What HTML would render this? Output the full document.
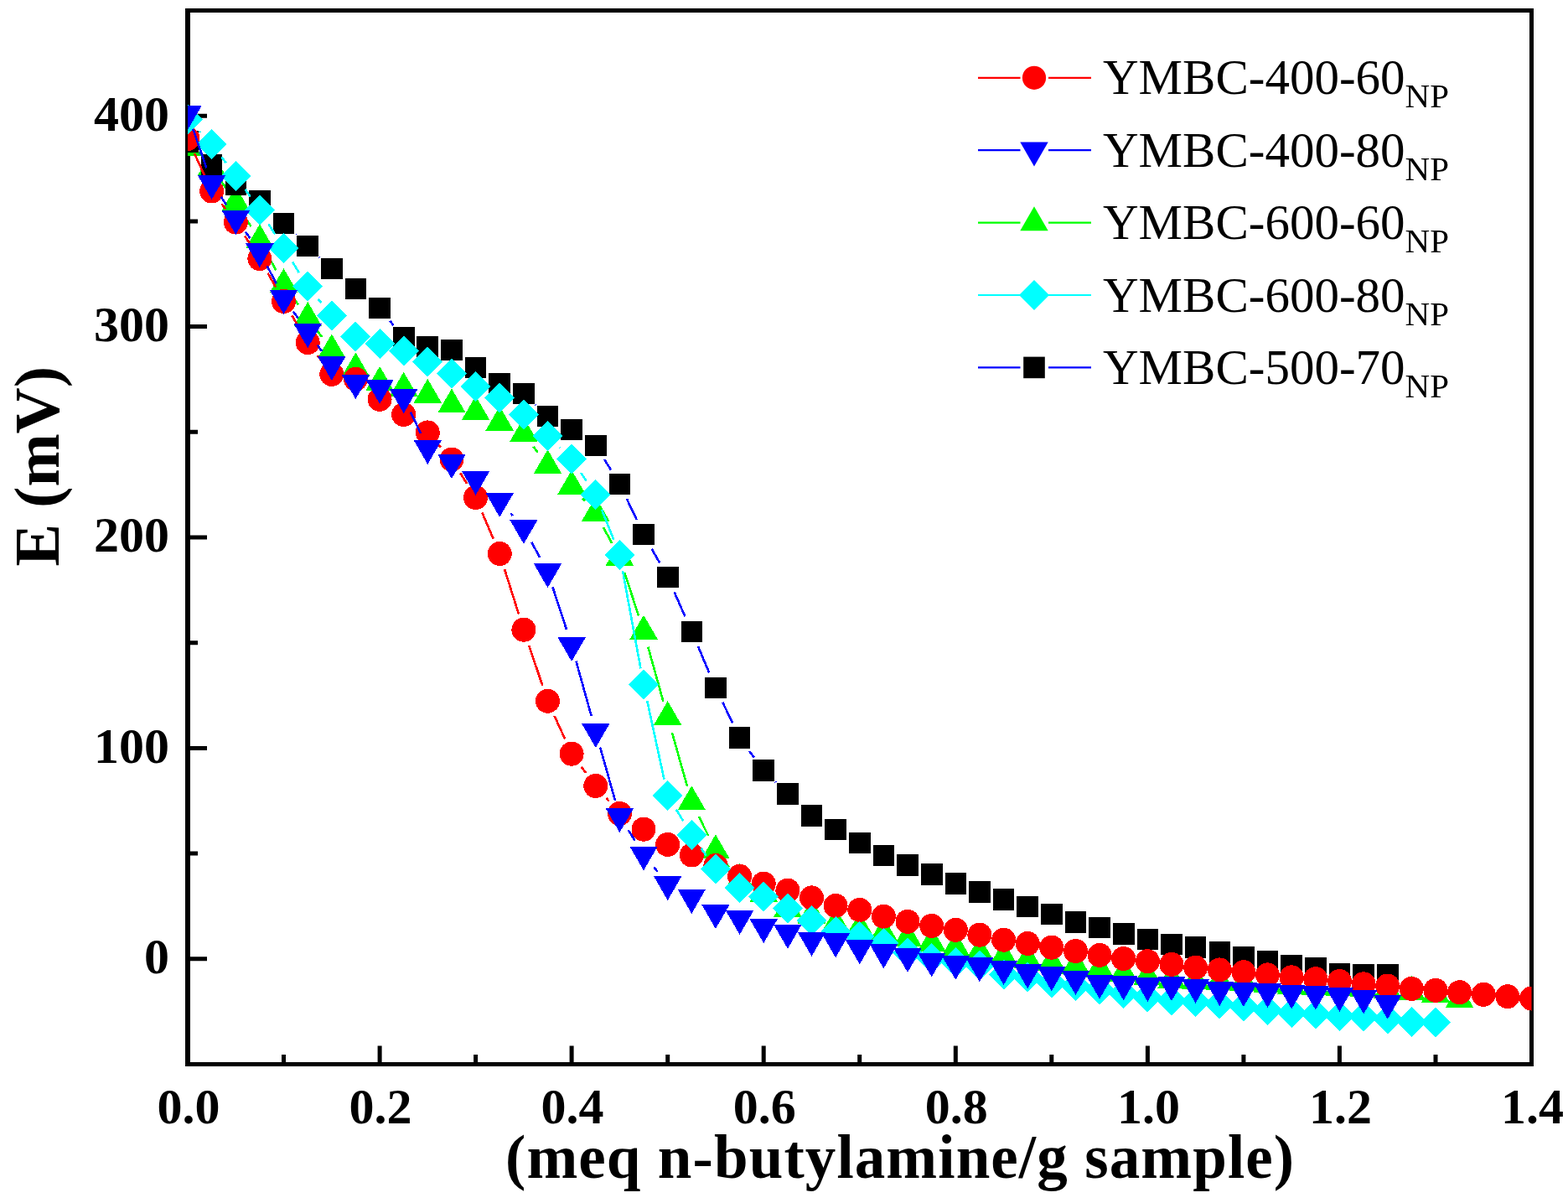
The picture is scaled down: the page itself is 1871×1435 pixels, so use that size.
<!DOCTYPE html>
<html><head><meta charset="utf-8"><title>E vs n-butylamine</title>
<style>
html,body{margin:0;padding:0;background:#fff;}
svg{display:block;}
.tk{font-family:"Liberation Serif","Times New Roman",serif;font-weight:bold;font-size:60px;fill:#000;}
.lg{font-family:"Liberation Serif","Times New Roman",serif;font-size:59px;fill:#000;}
.sub{font-size:41px;}
.ti{font-family:"Liberation Serif","Times New Roman",serif;font-weight:bold;fill:#000;}
</style></head><body>
<svg width="1871" height="1435" viewBox="0 0 1871 1435">
<rect width="1871" height="1435" fill="#fff"/>
<path d="M221 10h6v1262h-6zM1825 10h5v1262h-5zM221 10h1609v5h-1609zM221 1267h1609v5h-1609z" fill="#000"/>
<path d="M224 1141.3h23v5h-23zM224 1015.6h12v5h-12zM224 889.9h23v5h-23zM224 764.2h12v5h-12zM224 638.5h23v5h-23zM224 512.8h12v5h-12zM224 387.1h23v5h-23zM224 261.4h12v5h-12zM224 135.7h23v5h-23zM336 1269.5v-11.5h5v11.5zM450.6 1269.5v-22h5v22zM565.1 1269.5v-11.5h5v11.5zM679.6 1269.5v-22h5v22zM794.2 1269.5v-11.5h5v11.5zM908.7 1269.5v-22h5v22zM1023.2 1269.5v-11.5h5v11.5zM1137.8 1269.5v-22h5v22zM1252.3 1269.5v-11.5h5v11.5zM1366.9 1269.5v-22h5v22zM1481.4 1269.5v-11.5h5v11.5zM1595.9 1269.5v-22h5v22zM1710.5 1269.5v-11.5h5v11.5z" fill="#000"/>
<defs><clipPath id="pc"><rect x="224.0" y="12.5" width="1603.5" height="1257.0"/></clipPath></defs>
<g clip-path="url(#pc)" shape-rendering="crispEdges">
<path d="M263.6 215.6L270.3 225.4M291.7 258L299.4 270M319.2 303.6L329.3 322.3M349.9 355.2L355.8 363.4M378.8 394.8L384.1 402M636.5 532.7L641.9 539.9M695.1 594.5L697.8 597.5M720 629.2L730.1 647.8M745.4 683.5L762 734.5M773.3 771.8L791.4 836.6M802 874.2L820 937.8M833.9 974.1L845.3 997.1M866.3 1029.7L870.2 1034.4" stroke="#00ff00" stroke-width="2.6" fill="none"/><path d="M207.3 186.1L240.7 186.1L224 157.1ZM235.9 209.2L269.3 209.2L252.6 180.2ZM264.6 251.2L298 251.2L281.3 222.2ZM293.2 296.1L326.6 296.1L309.9 267.2ZM321.8 349L355.3 349L338.5 320.1ZM350.5 388.8L383.9 388.8L367.2 359.9ZM379.1 427.2L412.5 427.2L395.8 398.3ZM407.7 449.3L441.2 449.3L424.4 420.4ZM436.4 465.8L469.8 465.8L453.1 436.8ZM465 472.6L498.4 472.6L481.7 443.7ZM493.6 480.8L527.1 480.8L510.3 451.8ZM522.3 492.4L555.7 492.4L539 463.5ZM550.9 501L584.3 501L567.6 472.1ZM579.5 513.5L613 513.5L596.2 484.6ZM608.2 526.8L641.6 526.8L624.9 497.8ZM636.8 565.1L670.2 565.1L653.5 536.2ZM665.4 589.6L698.9 589.6L682.1 560.7ZM694.1 621.6L727.5 621.6L710.8 592.7ZM722.7 674.6L756.1 674.6L739.4 645.7ZM751.3 762.6L784.8 762.6L768 733.7ZM780 865L813.4 865L796.7 836.1ZM808.6 966.2L842 966.2L825.3 937.3ZM837.2 1024.2L870.7 1024.2L853.9 995.3ZM865.9 1059.2L899.3 1059.2L882.6 1030.2ZM894.5 1075.7L927.9 1075.7L911.2 1046.7ZM923.1 1093.7L956.6 1093.7L939.9 1064.7ZM951.8 1101.5L985.2 1101.5L968.5 1072.5ZM980.4 1111.7L1013.8 1111.7L997.1 1082.7ZM1009 1117L1042.5 1117L1025.8 1088ZM1037.7 1122.7L1071.1 1122.7L1054.4 1093.7ZM1066.3 1128.7L1099.7 1128.7L1083 1099.7ZM1094.9 1134.7L1128.4 1134.7L1111.7 1105.7ZM1123.6 1140.2L1157 1140.2L1140.3 1111.2ZM1152.2 1145.7L1185.6 1145.7L1168.9 1116.7ZM1180.8 1151.2L1214.3 1151.2L1197.6 1122.2ZM1209.5 1154.7L1242.9 1154.7L1226.2 1125.7ZM1238.1 1158.2L1271.5 1158.2L1254.8 1129.2ZM1266.7 1161.7L1300.2 1161.7L1283.5 1132.7ZM1295.4 1165.7L1328.8 1165.7L1312.1 1136.7ZM1324 1170.7L1357.4 1170.7L1340.7 1141.7ZM1352.6 1174.7L1386.1 1174.7L1369.4 1145.7ZM1381.3 1178.7L1414.7 1178.7L1398 1149.7ZM1409.9 1180.2L1443.3 1180.2L1426.6 1151.2ZM1438.5 1180.7L1472 1180.7L1455.3 1151.7ZM1467.2 1181.7L1500.6 1181.7L1483.9 1152.7ZM1495.8 1183.7L1529.2 1183.7L1512.5 1154.7ZM1524.4 1185.7L1557.9 1185.7L1541.2 1156.7ZM1553.1 1186.7L1586.5 1186.7L1569.8 1157.7ZM1581.7 1187.7L1615.1 1187.7L1598.4 1158.7ZM1610.4 1189.2L1643.8 1189.2L1627.1 1160.2ZM1639 1190.7L1672.4 1190.7L1655.7 1161.7ZM1667.6 1193.1L1701 1193.1L1684.3 1164.1ZM1696.3 1195.5L1729.7 1195.5L1713 1166.5ZM1724.9 1201.9L1758.3 1201.9L1741.6 1172.9Z" fill="#00ff00"/>
<path d="M238 182.3L238.6 182.9M324.2 253.2L324.2 253.3M352.8 279.8L352.9 280M381.3 306.7L381.6 307M465.3 382.7L469.5 388M639.1 482.8L639.3 483M721.1 547.9L729.1 560.7M747.8 594.9L759.7 619.9M777.6 654.5L787.1 671.3M804.5 706.1L817.5 735.5M833 771.2L846.3 802.5M862.4 838L874.2 862.6M894.1 895.9L899.7 903.4M925.3 932.6L925.8 933.2" stroke="#0000ff" stroke-width="2.6" fill="none"/><path d="M211.2 155.9h25.6v25.6h-25.6ZM239.8 183.7h25.6v25.6h-25.6ZM268.5 207.2h25.6v25.6h-25.6ZM297.1 227.2h25.6v25.6h-25.6ZM325.7 253.7h25.6v25.6h-25.6ZM354.4 280.5h25.6v25.6h-25.6ZM383 307.6h25.6v25.6h-25.6ZM411.6 331.6h25.6v25.6h-25.6ZM440.3 354.7h25.6v25.6h-25.6ZM468.9 390.4h25.6v25.6h-25.6ZM497.5 400.7h25.6v25.6h-25.6ZM526.2 404.6h25.6v25.6h-25.6ZM554.8 425.5h25.6v25.6h-25.6ZM583.4 444.7h25.6v25.6h-25.6ZM612.1 456.6h25.6v25.6h-25.6ZM640.7 483.6h25.6v25.6h-25.6ZM669.3 499.5h25.6v25.6h-25.6ZM698 518.5h25.6v25.6h-25.6ZM726.6 564.5h25.6v25.6h-25.6ZM755.2 624.7h25.6v25.6h-25.6ZM783.9 675.5h25.6v25.6h-25.6ZM812.5 740.5h25.6v25.6h-25.6ZM841.1 807.6h25.6v25.6h-25.6ZM869.8 867.4h25.6v25.6h-25.6ZM898.4 906.3h25.6v25.6h-25.6ZM927.1 933.9h25.6v25.6h-25.6ZM955.7 959.9h25.6v25.6h-25.6ZM984.3 976.8h25.6v25.6h-25.6ZM1013 992.8h25.6v25.6h-25.6ZM1041.6 1007.6h25.6v25.6h-25.6ZM1070.2 1019.1h25.6v25.6h-25.6ZM1098.9 1030.2h25.6v25.6h-25.6ZM1127.5 1041.3h25.6v25.6h-25.6ZM1156.1 1051.2h25.6v25.6h-25.6ZM1184.8 1060.1h25.6v25.6h-25.6ZM1213.4 1068.5h25.6v25.6h-25.6ZM1242 1077.7h25.6v25.6h-25.6ZM1270.7 1087.1h25.6v25.6h-25.6ZM1299.3 1093.7h25.6v25.6h-25.6ZM1327.9 1101.2h25.6v25.6h-25.6ZM1356.6 1107.8h25.6v25.6h-25.6ZM1385.2 1113.7h25.6v25.6h-25.6ZM1413.8 1117h25.6v25.6h-25.6ZM1442.5 1123h25.6v25.6h-25.6ZM1471.1 1128.8h25.6v25.6h-25.6ZM1499.7 1133.6h25.6v25.6h-25.6ZM1528.4 1138.7h25.6v25.6h-25.6ZM1557 1142.2h25.6v25.6h-25.6ZM1585.6 1149h25.6v25.6h-25.6ZM1614.3 1149.9h25.6v25.6h-25.6ZM1642.9 1149.9h25.6v25.6h-25.6Z" fill="#000000"/>
<path d="M232.1 183.2L244.5 210.3M264.6 243.4L269.3 249.6M292 281.3L299.2 292.3M319.5 325.6L329 342.4M348.3 376.3L357.4 391.7M378.9 424.1L384 430.9M523.3 530.5L526 533.4M549.4 564.5L557.2 577M575.3 611.4L588.6 642.6M602.1 679.1L619 732.6M631.1 769.7L647.3 817.7M661.6 854L674.1 881.4M693.8 914.8L699.1 921.9M723.6 952.2L726.6 955.7" stroke="#ff0000" stroke-width="2.6" fill="none"/><g fill="#ff0000"><circle cx="224" cy="165.5" r="14.5"/><circle cx="252.6" cy="228" r="14.5"/><circle cx="281.3" cy="265" r="14.5"/><circle cx="309.9" cy="308.6" r="14.5"/><circle cx="338.5" cy="359.4" r="14.5"/><circle cx="367.2" cy="408.6" r="14.5"/><circle cx="395.8" cy="446.4" r="14.5"/><circle cx="424.4" cy="452.2" r="14.5"/><circle cx="453.1" cy="476.4" r="14.5"/><circle cx="481.7" cy="494.5" r="14.5"/><circle cx="510.3" cy="515.9" r="14.5"/><circle cx="539" cy="548" r="14.5"/><circle cx="567.6" cy="593.5" r="14.5"/><circle cx="596.2" cy="660.5" r="14.5"/><circle cx="624.9" cy="751.2" r="14.5"/><circle cx="653.5" cy="836.2" r="14.5"/><circle cx="682.1" cy="899.2" r="14.5"/><circle cx="710.8" cy="937.5" r="14.5"/><circle cx="739.4" cy="970.4" r="14.5"/><circle cx="768" cy="989.2" r="14.5"/><circle cx="796.7" cy="1007.4" r="14.5"/><circle cx="825.3" cy="1020" r="14.5"/><circle cx="853.9" cy="1032.5" r="14.5"/><circle cx="882.6" cy="1045.2" r="14.5"/><circle cx="911.2" cy="1054.2" r="14.5"/><circle cx="939.9" cy="1062.2" r="14.5"/><circle cx="968.5" cy="1070.9" r="14.5"/><circle cx="997.1" cy="1080.4" r="14.5"/><circle cx="1025.8" cy="1085.4" r="14.5"/><circle cx="1054.4" cy="1093.2" r="14.5"/><circle cx="1083" cy="1099.3" r="14.5"/><circle cx="1111.7" cy="1104.4" r="14.5"/><circle cx="1140.3" cy="1109.3" r="14.5"/><circle cx="1168.9" cy="1115.2" r="14.5"/><circle cx="1197.6" cy="1121.2" r="14.5"/><circle cx="1226.2" cy="1125.5" r="14.5"/><circle cx="1254.8" cy="1130.2" r="14.5"/><circle cx="1283.5" cy="1134.5" r="14.5"/><circle cx="1312.1" cy="1139.4" r="14.5"/><circle cx="1340.7" cy="1143.5" r="14.5"/><circle cx="1369.4" cy="1146.7" r="14.5"/><circle cx="1398" cy="1150.3" r="14.5"/><circle cx="1426.6" cy="1154.1" r="14.5"/><circle cx="1455.3" cy="1156.9" r="14.5"/><circle cx="1483.9" cy="1159.7" r="14.5"/><circle cx="1512.5" cy="1162.9" r="14.5"/><circle cx="1541.2" cy="1165.8" r="14.5"/><circle cx="1569.8" cy="1167.7" r="14.5"/><circle cx="1598.4" cy="1170.6" r="14.5"/><circle cx="1627.1" cy="1173.8" r="14.5"/><circle cx="1655.7" cy="1176" r="14.5"/><circle cx="1684.3" cy="1179.4" r="14.5"/><circle cx="1713" cy="1181.3" r="14.5"/><circle cx="1741.6" cy="1183.7" r="14.5"/><circle cx="1770.2" cy="1186.3" r="14.5"/><circle cx="1798.9" cy="1188.7" r="14.5"/><circle cx="1827.5" cy="1191" r="14.5"/></g>
<path d="M237.6 156.5L239 158M264.4 187.5L269.5 194.3M292.5 225.9L298.7 234.7M320.4 267.2L328.1 279.3M348.9 312.3L356.8 325.2M379.6 356.8L383.4 361.4M667.6 533.9L668.1 534.3M693.1 563.9L699.8 573.8M718 608L732.2 643.7M743 681L764.5 797.5M772.2 835.8L792.5 929.7M806.8 965.5L815.2 979.2M836.5 1011.9L842.8 1020.9" stroke="#00ffff" stroke-width="2.6" fill="none"/><path d="M224 124.6L242 142.6L224 160.6L206 142.6ZM252.6 153.9L270.6 171.9L252.6 189.9L234.6 171.9ZM281.3 191.9L299.3 209.9L281.3 227.9L263.3 209.9ZM309.9 232.7L327.9 250.7L309.9 268.7L291.9 250.7ZM338.5 277.8L356.5 295.8L338.5 313.8L320.5 295.8ZM367.2 323.7L385.2 341.7L367.2 359.7L349.2 341.7ZM395.8 358.5L413.8 376.5L395.8 394.5L377.8 376.5ZM424.4 383.6L442.4 401.6L424.4 419.6L406.4 401.6ZM453.1 392.1L471.1 410.1L453.1 428.1L435.1 410.1ZM481.7 400.7L499.7 418.7L481.7 436.7L463.7 418.7ZM510.3 413.5L528.3 431.5L510.3 449.5L492.3 431.5ZM539 427.8L557 445.8L539 463.8L521 445.8ZM567.6 442.8L585.6 460.8L567.6 478.8L549.6 460.8ZM596.2 456.5L614.2 474.5L596.2 492.5L578.2 474.5ZM624.9 476.9L642.9 494.9L624.9 512.9L606.9 494.9ZM653.5 502.4L671.5 520.4L653.5 538.4L635.5 520.4ZM682.1 529.8L700.1 547.8L682.1 565.8L664.1 547.8ZM710.8 571.9L728.8 589.9L710.8 607.9L692.8 589.9ZM739.4 643.8L757.4 661.8L739.4 679.8L721.4 661.8ZM768 798.7L786 816.7L768 834.7L750 816.7ZM796.7 930.8L814.7 948.8L796.7 966.8L778.7 948.8ZM825.3 977.9L843.3 995.9L825.3 1013.9L807.3 995.9ZM853.9 1018.9L871.9 1036.9L853.9 1054.9L835.9 1036.9ZM882.6 1040.9L900.6 1058.9L882.6 1076.9L864.6 1058.9ZM911.2 1051.4L929.2 1069.4L911.2 1087.4L893.2 1069.4ZM939.9 1065.7L957.9 1083.7L939.9 1101.7L921.9 1083.7ZM968.5 1079.8L986.5 1097.8L968.5 1115.8L950.5 1097.8ZM997.1 1093L1015.1 1111L997.1 1129L979.1 1111ZM1025.8 1099L1043.8 1117L1025.8 1135L1007.8 1117ZM1054.4 1107L1072.4 1125L1054.4 1143L1036.4 1125ZM1083 1118.8L1101 1136.8L1083 1154.8L1065 1136.8ZM1111.7 1125.3L1129.7 1143.3L1111.7 1161.3L1093.7 1143.3ZM1140.3 1130.2L1158.3 1148.2L1140.3 1166.2L1122.3 1148.2ZM1168.9 1133.9L1186.9 1151.9L1168.9 1169.9L1150.9 1151.9ZM1197.6 1144.5L1215.6 1162.5L1197.6 1180.5L1179.6 1162.5ZM1226.2 1147.7L1244.2 1165.7L1226.2 1183.7L1208.2 1165.7ZM1254.8 1154.5L1272.8 1172.5L1254.8 1190.5L1236.8 1172.5ZM1283.5 1157.7L1301.5 1175.7L1283.5 1193.7L1265.5 1175.7ZM1312.1 1162.6L1330.1 1180.6L1312.1 1198.6L1294.1 1180.6ZM1340.7 1167.3L1358.7 1185.3L1340.7 1203.3L1322.7 1185.3ZM1369.4 1171.6L1387.4 1189.6L1369.4 1207.6L1351.4 1189.6ZM1398 1175.5L1416 1193.5L1398 1211.5L1380 1193.5ZM1426.6 1176.7L1444.6 1194.7L1426.6 1212.7L1408.6 1194.7ZM1455.3 1179.6L1473.3 1197.6L1455.3 1215.6L1437.3 1197.6ZM1483.9 1182.7L1501.9 1200.7L1483.9 1218.7L1465.9 1200.7ZM1512.5 1186.8L1530.5 1204.8L1512.5 1222.8L1494.5 1204.8ZM1541.2 1189.9L1559.2 1207.9L1541.2 1225.9L1523.2 1207.9ZM1569.8 1191.6L1587.8 1209.6L1569.8 1227.6L1551.8 1209.6ZM1598.4 1194.4L1616.4 1212.4L1598.4 1230.4L1580.4 1212.4ZM1627.1 1194.7L1645.1 1212.7L1627.1 1230.7L1609.1 1212.7ZM1655.7 1197.6L1673.7 1215.6L1655.7 1233.6L1637.7 1215.6ZM1684.3 1200.8L1702.3 1218.8L1684.3 1236.8L1666.3 1218.8ZM1713 1201.9L1731 1219.9L1713 1237.9L1695 1219.9Z" fill="#00ffff"/>
<path d="M230.4 154.1L246.3 200.3M263.6 234.8L270.3 244.6M292.8 276.5L298.4 284.2M318.8 317.3L329.6 338.3M349.8 371.5L355.9 379.9M378.7 411.5L384.2 419M490 491.5L502 517M609.2 612.1L611.9 615.1M634.2 646.7L644.1 664.8M659.5 700.4L676.1 751.3M687.4 788.6L705.6 853.9M716.1 891.5L734.1 955M749.8 990.3L757.6 1002.6M780.2 1034.3L784.5 1039.6" stroke="#0000ff" stroke-width="2.6" fill="none"/><path d="M207.3 126L240.7 126L224 155ZM235.9 209L269.3 209L252.6 238ZM264.6 251L298 251L281.3 280ZM293.2 290.4L326.6 290.4L309.9 319.3ZM321.8 346L355.3 346L338.5 374.9ZM350.5 386.2L383.9 386.2L367.2 415.1ZM379.1 425.1L412.5 425.1L395.8 454ZM407.7 447.2L441.2 447.2L424.4 476.1ZM436.4 452.9L469.8 452.9L453.1 481.8ZM465 464.2L498.4 464.2L481.7 493.2ZM493.6 525L527.1 525L510.3 553.9ZM522.3 542.1L555.7 542.1L539 571.1ZM550.9 561.9L584.3 561.9L567.6 590.8ZM579.5 588L613 588L596.2 616.9ZM608.2 620L641.6 620L624.9 648.9ZM636.8 672.2L670.2 672.2L653.5 701.2ZM665.4 760.1L698.9 760.1L682.1 789.1ZM694.1 863.1L727.5 863.1L710.8 892ZM722.7 964.1L756.1 964.1L739.4 993.1ZM751.3 1009.5L784.8 1009.5L768 1038.4ZM780 1045.1L813.4 1045.1L796.7 1074.1ZM808.6 1060.9L842 1060.9L825.3 1089.9ZM837.2 1079L870.7 1079L853.9 1108ZM865.9 1086L899.3 1086L882.6 1115ZM894.5 1096.1L927.9 1096.1L911.2 1125.1ZM923.1 1102.8L956.6 1102.8L939.9 1131.8ZM951.8 1111.8L985.2 1111.8L968.5 1140.8ZM980.4 1113.3L1013.8 1113.3L997.1 1142.3ZM1009 1121.3L1042.5 1121.3L1025.8 1150.3ZM1037.7 1126.3L1071.1 1126.3L1054.4 1155.3ZM1066.3 1131L1099.7 1131L1083 1160ZM1094.9 1136.5L1128.4 1136.5L1111.7 1165.5ZM1123.6 1139.8L1157 1139.8L1140.3 1168.7ZM1152.2 1142.3L1185.6 1142.3L1168.9 1171.3ZM1180.8 1146L1214.3 1146L1197.6 1175ZM1209.5 1150.2L1242.9 1150.2L1226.2 1179.2ZM1238.1 1153.3L1271.5 1153.3L1254.8 1182.3ZM1266.7 1157.9L1300.2 1157.9L1283.5 1186.9ZM1295.4 1162.6L1328.8 1162.6L1312.1 1191.6ZM1324 1164.3L1357.4 1164.3L1340.7 1193.3ZM1352.6 1165.8L1386.1 1165.8L1369.4 1194.8ZM1381.3 1165.1L1414.7 1165.1L1398 1194.1ZM1409.9 1167.8L1443.3 1167.8L1426.6 1196.7ZM1438.5 1170.9L1472 1170.9L1455.3 1199.9ZM1467.2 1172L1500.6 1172L1483.9 1201ZM1495.8 1173L1529.2 1173L1512.5 1202ZM1524.4 1174.6L1557.9 1174.6L1541.2 1203.6ZM1553.1 1175.8L1586.5 1175.8L1569.8 1204.7ZM1581.7 1177.8L1615.1 1177.8L1598.4 1206.8ZM1610.4 1180.5L1643.8 1180.5L1627.1 1209.5ZM1639 1186.8L1672.4 1186.8L1655.7 1215.8Z" fill="#0000ff"/>
</g>
<text x="202" y="1161.1" text-anchor="end" class="tk">0</text>
<text x="202" y="909.7" text-anchor="end" class="tk">100</text>
<text x="202" y="658.3" text-anchor="end" class="tk">200</text>
<text x="202" y="406.9" text-anchor="end" class="tk">300</text>
<text x="202" y="155.5" text-anchor="end" class="tk">400</text>
<text x="225" y="1340" text-anchor="middle" class="tk">0.0</text>
<text x="454.1" y="1340" text-anchor="middle" class="tk">0.2</text>
<text x="683.1" y="1340" text-anchor="middle" class="tk">0.4</text>
<text x="912.2" y="1340" text-anchor="middle" class="tk">0.6</text>
<text x="1141.3" y="1340" text-anchor="middle" class="tk">0.8</text>
<text x="1370.4" y="1340" text-anchor="middle" class="tk">1.0</text>
<text x="1599.4" y="1340" text-anchor="middle" class="tk">1.2</text>
<text x="1828.5" y="1340" text-anchor="middle" class="tk">1.4</text>
<text class="ti" x="603" y="1404.5" style="font-size:73px;letter-spacing:1.1px">(meq n-butylamine/g sample)</text>
<text class="ti" transform="translate(69.5 675.5) rotate(-90)" x="0" y="0" style="font-size:76px">E (mV)</text>
<path d="M1167 92.8H1217.5M1251 92.8H1302" stroke="#ff0000" stroke-width="2.2"/>
<circle cx="1234" cy="92.8" r="14.1" fill="#ff0000"/>
<text x="1316" y="112.3" class="lg">YMBC-400-60<tspan class="sub" dy="16">NP</tspan></text>
<path d="M1167 179.2H1217.5M1251 179.2H1302" stroke="#0000ff" stroke-width="2.2"/>
<path d="M1217.3 169.5L1250.7 169.5L1234 198.5Z" fill="#0000ff"/>
<text x="1316" y="198.7" class="lg">YMBC-400-80<tspan class="sub" dy="16">NP</tspan></text>
<path d="M1167 265.6H1217.5M1251 265.6H1302" stroke="#00ff00" stroke-width="2.2"/>
<path d="M1217.3 275.2L1250.7 275.2L1234 246.3Z" fill="#00ff00"/>
<text x="1316" y="285.1" class="lg">YMBC-600-60<tspan class="sub" dy="16">NP</tspan></text>
<path d="M1167 352H1217.5M1251 352H1302" stroke="#00ffff" stroke-width="2.2"/>
<path d="M1234 334L1252 352L1234 370L1216 352Z" fill="#00ffff"/>
<text x="1316" y="371.5" class="lg">YMBC-600-80<tspan class="sub" dy="16">NP</tspan></text>
<path d="M1167 438.4H1217.5M1251 438.4H1302" stroke="#0000ff" stroke-width="2.2"/>
<path d="M1221.2 425.6h25.6v25.6h-25.6Z" fill="#000000"/>
<text x="1316" y="457.9" class="lg">YMBC-500-70<tspan class="sub" dy="16">NP</tspan></text>
</svg>
</body></html>
